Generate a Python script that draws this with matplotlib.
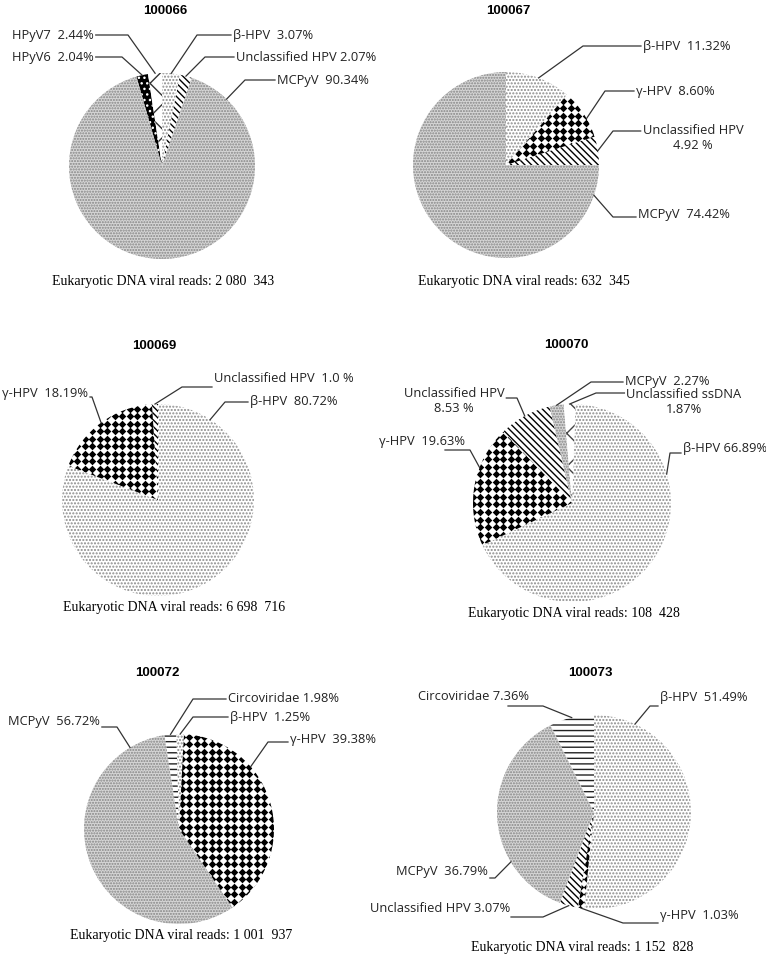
import numpy as np
import matplotlib
matplotlib.use("Agg")
import matplotlib.pyplot as plt

W, H = 766, 958

titles = ["100066", "100067", "100069", "100070", "100072", "100073"]
reads = ["2 080  343", "632  345", "6 698  716", "108  428", "1 001  937", "1 152  828"]

names_66 = ["HPyV6", "HPyV7", "β-HPV", "Unclassified HPV", "MCPyV"]
values_66 = [2.04, 2.44, 3.07, 2.07, 90.34]
texts_66 = ["HPyV6  2.04%", "HPyV7  2.44%", "β-HPV  3.07%", "Unclassified HPV 2.07%", "MCPyV  90.34%"]

names_67 = ["β-HPV", "γ-HPV", "Unclassified HPV", "MCPyV"]
values_67 = [11.32, 8.60, 4.92, 74.42]
texts_67 = ["β-HPV  11.32%", "γ-HPV  8.60%", "Unclassified HPV\n4.92 %", "MCPyV  74.42%"]

names_69 = ["β-HPV", "γ-HPV", "Unclassified HPV"]
values_69 = [80.72, 18.19, 1.0]
texts_69 = ["β-HPV  80.72%", "γ-HPV  18.19%", "Unclassified HPV  1.0 %"]

names_70 = ["β-HPV", "γ-HPV", "Unclassified HPV", "MCPyV", "Unclassified ssDNA"]
values_70 = [66.89, 19.63, 8.53, 2.27, 1.87]
texts_70 = ["β-HPV 66.89%", "γ-HPV  19.63%", "Unclassified HPV\n8.53 %", "MCPyV  2.27%",
            "Unclassified ssDNA\n1.87%"]

names_72 = ["γ-HPV", "MCPyV", "Circoviridae", "β-HPV"]
values_72 = [39.38, 56.72, 1.98, 1.25]
texts_72 = ["γ-HPV  39.38%", "MCPyV  56.72%", "Circoviridae 1.98%", "β-HPV  1.25%"]

names_73 = ["β-HPV", "γ-HPV", "Unclassified HPV", "MCPyV", "Circoviridae"]
values_73 = [51.49, 1.03, 3.07, 36.79, 7.36]
texts_73 = ["β-HPV  51.49%", "γ-HPV  1.03%", "Unclassified HPV 3.07%", "MCPyV  36.79%", "Circoviridae 7.36%"]

# pattern fills, one per virus group
style = {
    "MCPyV": dict(fc="#d6d6d6", hc="#858585", hatch="......"),
    "β-HPV": dict(fc="white", hc="#8c8c8c", hatch="....."),
    "γ-HPV": dict(fc="white", hc="white", hatch=None),
    "Unclassified HPV": dict(fc="white", hc="black", hatch="\\\\\\\\\\"),
    "HPyV6": dict(fc="black", hc="white", hatch="..."),
    "HPyV7": dict(fc="white", hc="#333333", hatch="x"),
    "Circoviridae": dict(fc="white", hc="#222222", hatch="---"),
    "Unclassified ssDNA": dict(fc="white", hc="#444444", hatch="x"),
}

# layout in pixels (top-left origin)
# note: (text x, text y, ha, line y, line start x or None, elbow x, anchor angle cw from top or None)
charts = [
    dict(names=names_66, values=values_66, texts=texts_66, center=(162, 166), r=93, start=-16,
         title_xy=(165, 11), reads_xy=(163, 282),
         notes=[(12, 57, "left", 57, None, 122, None), (12, 35, "left", 35, None, 128, None),
                (233, 35, "left", 35, None, 197, None), (236, 57, "left", 57, None, 205, None),
                (277, 80, "left", 80, None, 245, 44)]),
    dict(names=names_67, values=values_67, texts=texts_67, center=(506, 165), r=93, start=0,
         title_xy=(508, 11), reads_xy=(524, 282),
         notes=[(643, 46, "left", 46, None, 583, None), (636, 91, "left", 91, None, 605, 60),
                (693, 138, "center", 131, None, 613, None), (638, 214, "left", 217, None, 613, 109)]),
    dict(names=names_69, values=values_69, texts=texts_69, center=(158, 500), r=96, start=0,
         title_xy=(154, 346), reads_xy=(174, 608),
         notes=[(250, 402, "left", 402, None, 225, 33), (2, 393, "left", 397, None, 92, None),
                (214, 378, "left", 387, None, 182, None)]),
    dict(names=names_70, values=values_70, texts=texts_70, center=(572, 503), r=99, start=2,
         title_xy=(566, 345), reads_xy=(574, 613),
         notes=[(683, 448, "left", 453, None, 670, 73), (379, 442, "left", 450, 445, 470, 291),
                (454, 401, "center", 398, None, 517, None), (625, 382, "left", 382, None, 591, None),
                (684, 402, "center", 393, None, 596, None)]),
    dict(names=names_72, values=values_72, texts=texts_72, center=(179, 829), r=95, start=3,
         title_xy=(157, 673), reads_xy=(181, 935),
         notes=[(290, 740, "left", 742, None, 268, 49), (8, 722, "left", 727, None, 117, 329),
                (228, 699, "left", 699, None, 193, None), (230, 718, "left", 717, None, 193, None)]),
    dict(names=names_73, values=values_73, texts=texts_73, center=(594, 812), r=97, start=0,
         title_xy=(590, 673), reads_xy=(582, 947),
         notes=[(660, 697, "left", 706, 658, 650, 25), (660, 916, "left", 923, None, 623, None),
                (510, 908, "right", 917, 511, 543, None), (396, 872, "left", 878, None, 495, 239),
                (418, 697, "left", 706, 508, 543, None)]),
]

fig = plt.figure(figsize=(W / 100, H / 100), dpi=100)
over = fig.add_axes([0, 0, 1, 1], zorder=5)
over.set_xlim(0, W)
over.set_ylim(H, 0)
over.set_autoscale_on(False)
over.axis("off")

pending = []
for i, ch in enumerate(charts):
    cx, cy = ch["center"]
    r = ch["r"]
    ax = fig.add_axes([(cx - r) / W, 1 - (cy + r) / H, 2 * r / W, 2 * r / H])
    wedges, _ = ax.pie(ch["values"], startangle=90 - ch["start"], counterclock=False,
                       wedgeprops=dict(linewidth=0))
    for w, name in zip(wedges, ch["names"]):
        st = style[name]
        w.set_facecolor(st["fc"])
        w.set_edgecolor(st["hc"])
        w.set_linewidth(0)
        if st["hatch"]:
            w.set_hatch(st["hatch"])
        if name == "γ-HPV":
            step = 7.5 / r
            g = np.arange(-1, 1 + step, step)
            xx, yy = np.meshgrid(g, g)
            sc = ax.scatter(xx.ravel(), yy.ravel(), marker="D", s=15, c="black", linewidths=0)
            sc.set_clip_path(w)
    ax.set_xlim(-1, 1)
    ax.set_ylim(-1, 1)

    over.text(*ch["title_xy"], titles[i], ha="center", va="center", fontsize=9.5,
              fontweight="bold", family="Liberation Sans")
    over.text(*ch["reads_xy"], "Eukaryotic DNA viral reads: " + reads[i], ha="center", va="center",
              fontsize=10, family="Liberation Serif")

    for w, txt, note in zip(wedges, ch["texts"], ch["notes"]):
        tx, ty, ha, ly, sx, ex, ang = note
        t = over.text(tx, ty, txt, ha=ha, va="center", fontsize=9.3, family="Open Sans",
                      multialignment="center", linespacing=1.2, color="#222222")
        pending.append((ax, w, t, ly, sx, ex, ang))

fig.canvas.draw()
inv = over.transData.inverted()
for ax, w, t, ly, sx, ex, ang in pending:
    bb = t.get_window_extent()
    (x0, _), (x1, _) = inv.transform([[bb.x0, bb.y0], [bb.x1, bb.y1]])
    if sx is None:
        sx = x1 + 2 if ex > (x0 + x1) / 2 else x0 - 2
    if ang is None:
        a = np.deg2rad((w.theta1 + w.theta2) / 2)
    else:
        a = np.deg2rad(90 - ang)
    px, py = inv.transform(ax.transData.transform((np.cos(a), np.sin(a))))
    over.plot([sx, ex, px], [ly, ly, py], color="#333333", lw=0.9)

fig.savefig("out.png", dpi=100)
